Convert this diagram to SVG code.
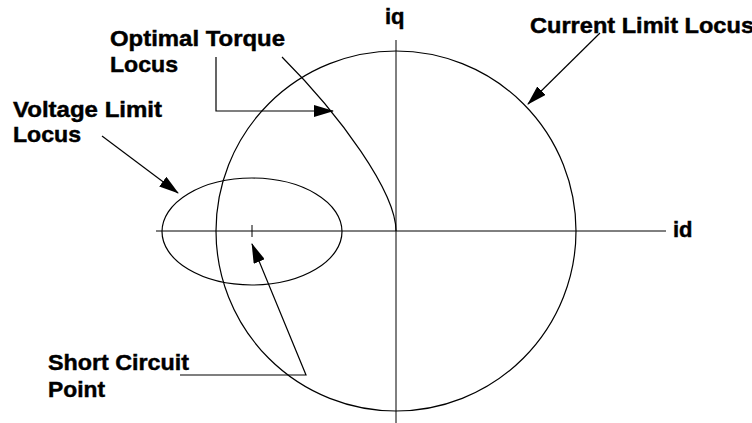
<svg xmlns="http://www.w3.org/2000/svg" width="752" height="423" viewBox="0 0 752 423">
  <style>
    .lbl { font-family: "Liberation Sans", Arial, sans-serif; font-weight: bold; font-size: 22px; fill: #000; stroke: #000; stroke-width: 0.45; }
    .crv { fill: none; stroke: #000; stroke-width: 1.2; }
    .ax { fill: none; stroke: #000; stroke-width: 1; }
    .con { fill: none; stroke: #000; stroke-width: 1.2; }
  </style>
  <defs>
    <marker id="ah" viewBox="0 0 20 12" refX="19" refY="6" markerWidth="20" markerHeight="12" markerUnits="userSpaceOnUse" orient="auto">
      <path d="M0,0 L20,6 L0,12 Z" fill="#000"/>
    </marker>
  </defs>
  <rect width="752" height="423" fill="#fff"/>

  <g id="axis-id">
    <line class="ax" x1="156" y1="231" x2="666" y2="231"/>
    <text class="lbl" x="673" y="237">id</text>
  </g>
  <g id="axis-iq">
    <line class="ax" x1="396" y1="40" x2="396" y2="423" stroke="#333"/>
    <text class="lbl" x="385" y="24">iq</text>
  </g>

  <g id="current-limit-circle">
    <circle class="crv" cx="396" cy="231" r="180"/>
  </g>
  <g id="voltage-limit-ellipse">
    <ellipse class="crv" cx="252" cy="231.5" rx="90" ry="53.5"/>
  </g>
  <g id="short-circuit-point">
    <line class="ax" x1="252" y1="225" x2="252" y2="237"/>
  </g>
  <g id="optimal-torque-curve">
    <path class="crv" d="M396,231 C396,192 340,115 282,57"/>
  </g>

  <g id="label-optimal-torque">
    <text class="lbl" x="110" y="46" textLength="175" lengthAdjust="spacingAndGlyphs">Optimal Torque</text>
    <text class="lbl" x="110" y="72" textLength="68" lengthAdjust="spacingAndGlyphs">Locus</text>
  </g>
  <g id="label-voltage-limit">
    <text class="lbl" x="13" y="117" textLength="149" lengthAdjust="spacingAndGlyphs">Voltage Limit</text>
    <text class="lbl" x="13" y="142" textLength="68" lengthAdjust="spacingAndGlyphs">Locus</text>
  </g>
  <g id="label-current-limit">
    <text class="lbl" x="530" y="33" textLength="224" lengthAdjust="spacingAndGlyphs">Current Limit Locus</text>
  </g>
  <g id="label-short-circuit">
    <text class="lbl" x="48" y="370" textLength="141" lengthAdjust="spacingAndGlyphs">Short Circuit</text>
    <text class="lbl" x="48" y="397" textLength="57" lengthAdjust="spacingAndGlyphs">Point</text>
  </g>

  <g id="connectors">
    <polyline class="con" points="216,57 216,111 333,111" marker-end="url(#ah)"/>
    <line class="con" x1="102" y1="136" x2="178" y2="193" marker-end="url(#ah)"/>
    <line class="con" x1="600" y1="33" x2="528" y2="104" marker-end="url(#ah)"/>
    <polyline class="con" points="180,375 306,375 252,244" marker-end="url(#ah)"/>
  </g>
</svg>
